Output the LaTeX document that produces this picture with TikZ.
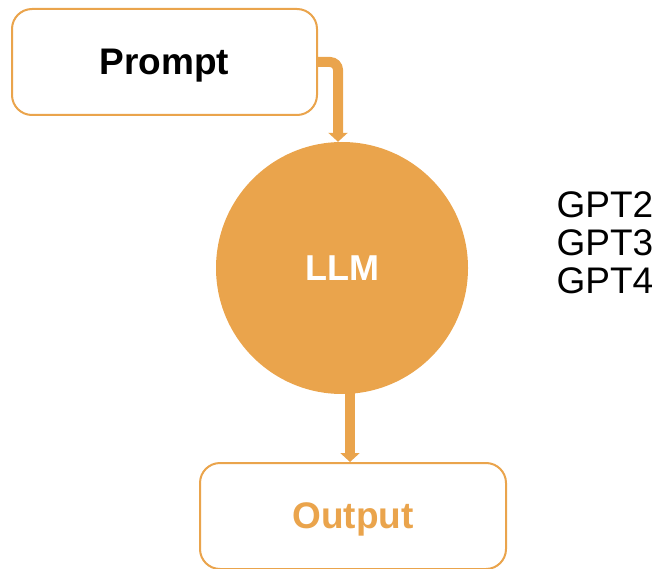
\documentclass[tikz,border=0pt]{standalone}
\usepackage{fontspec}
\setmainfont{Liberation Sans}
\usetikzlibrary{arrows.meta,calc}
\definecolor{llmorange}{RGB}{234,164,76}
\tikzset{
    box/.style={draw=llmorange,line width=2pt,rounded corners=20pt,fill=white,text depth=0pt,
      minimum width=#1,minimum height=106pt,font=\fontsize{37}{38}\selectfont\bfseries},
    flow/.style={draw=llmorange,line width=10pt,-{Triangle[width=19pt,length=9pt]}},
  }
\begin{document}
\begin{tikzpicture}[x=1pt,y=-1pt]
				  %cadre
				  \useasboundingbox (0,0) rectangle (658,569);
				  
				  \node[box=305pt] (prompt) at (164.5,62) {Prompt};
				  \node[circle,fill=llmorange,minimum size=252pt,inner sep=0pt,text=white,
				        font=\fontsize{36}{38}\selectfont\bfseries] (llm) at (342,268) {LLM};
				  \node[box=306pt,text=llmorange] (output) at (353,516) {Output};
				  \node[anchor=west,align=left,font=\fontsize{37}{38}\selectfont] (models) at (553,243) {GPT2\\GPT3\\GPT4};
				  \draw[flow,rounded corners=8pt] (prompt.east) -| ($(llm.north)+(-4,0)$);
				  \draw[flow] (llm.south -| output.north) ++(-3,-3) -- ($(output.north)+(-3,0)$);
				  \end{tikzpicture}
\end{document}
